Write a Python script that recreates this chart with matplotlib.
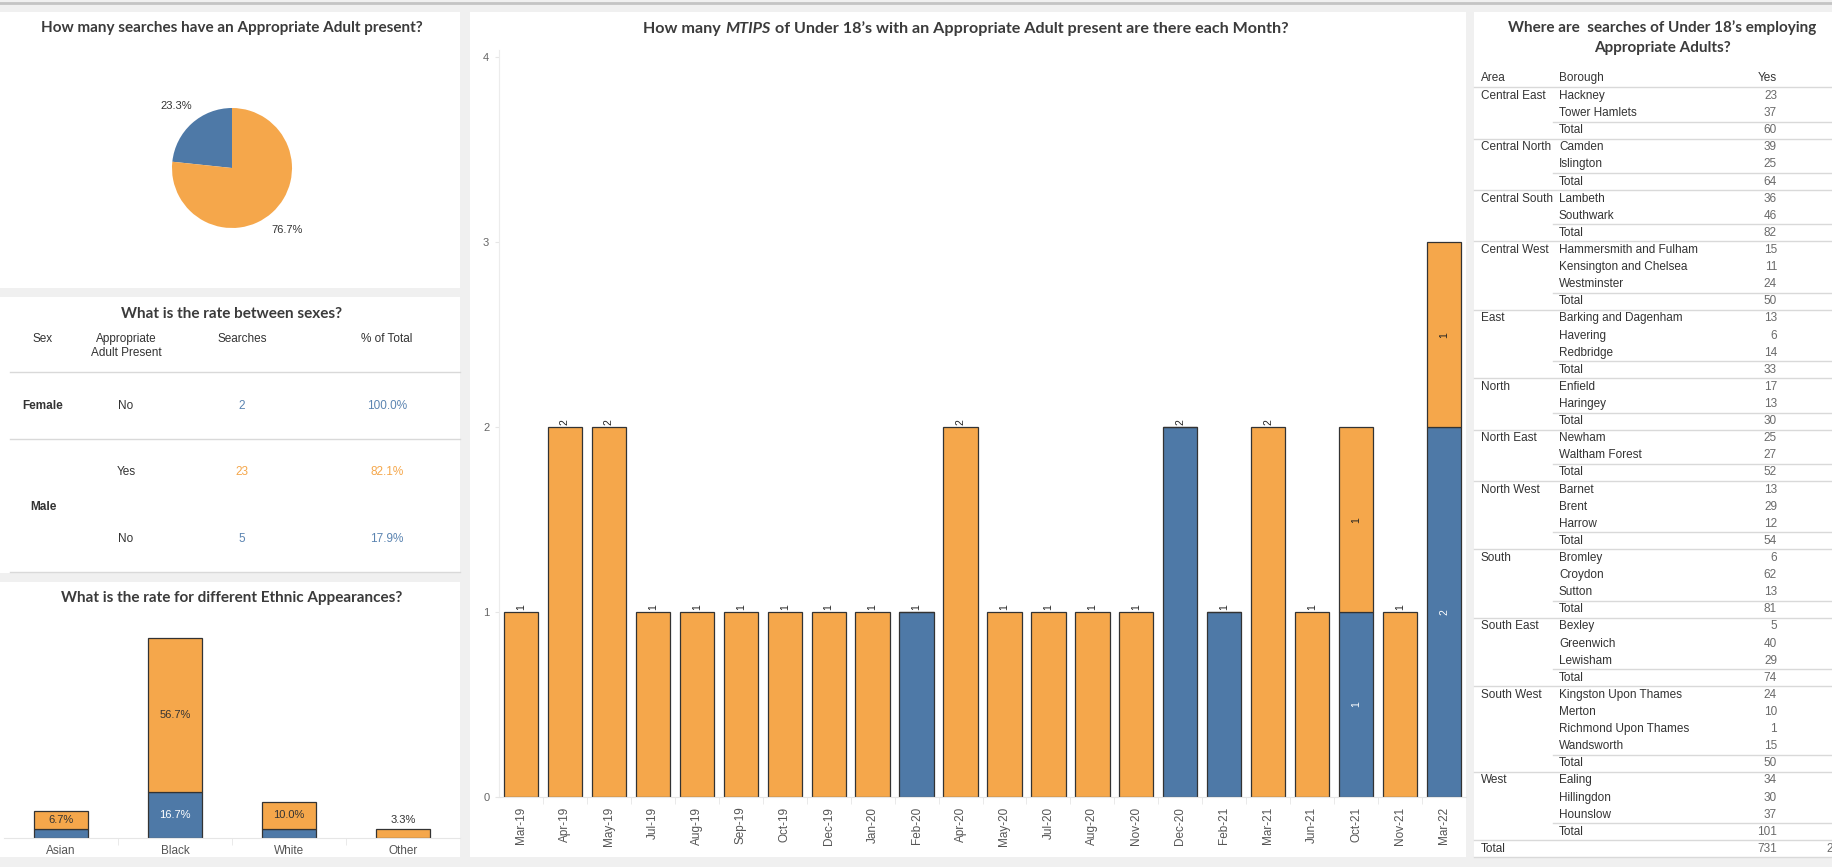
import matplotlib
matplotlib.use("Agg")
import matplotlib.pyplot as plt
from matplotlib.patches import Rectangle
from matplotlib.lines import Line2D

W, H = 1833, 867
ORANGE = "#f5a74b"
BLUE = "#4e79a7"
TITLE_C = "#3b3b3b"
TEXT_C = "#333333"
GREY_C = "#6a6a6a"
LINE_C = "#d9d9d9"
TITLE_FONT = ["Lato", "DejaVu Sans"]
BODY_FONT = ["Liberation Sans", "DejaVu Sans"]

# appropriate adult present: No / Yes
aa_labels = ["No", "Yes"]
aa_counts = [7, 23]

# searches by sex
sex_names = ["Female", "Male", "Male"]
sex_present = ["No", "Yes", "No"]
sex_searches = [2, 23, 5]

# ethnic appearance, % of all searches
ethnic_groups = ["Asian", "Black", "White", "Other"]
ethnic_no = [3.3, 16.7, 3.3, 0.0]
ethnic_yes = [6.7, 56.7, 10.0, 3.3]

# monthly MTIPS counts
months = ["Mar-19", "Apr-19", "May-19", "Jul-19", "Aug-19", "Sep-19", "Oct-19",
          "Dec-19", "Jan-20", "Feb-20", "Apr-20", "May-20", "Jul-20", "Aug-20",
          "Nov-20", "Dec-20", "Feb-21", "Mar-21", "Jun-21", "Oct-21", "Nov-21",
          "Mar-22"]
monthly_no = [0, 0, 0, 0, 0, 0, 0, 0, 0, 1, 0, 0, 0, 0, 0, 2, 1, 0, 0, 1, 0, 2]
monthly_yes = [1, 2, 2, 1, 1, 1, 1, 1, 1, 0, 2, 1, 1, 1, 1, 0, 0, 2, 1, 1, 1, 1]

# borough table
areas = ["Central East", "Central North", "Central South", "Central West", "East",
         "North", "North East", "North West", "South", "South East", "South West",
         "West"]
boroughs = [
    ["Hackney", "Tower Hamlets"],
    ["Camden", "Islington"],
    ["Lambeth", "Southwark"],
    ["Hammersmith and Fulham", "Kensington and Chelsea", "Westminster"],
    ["Barking and Dagenham", "Havering", "Redbridge"],
    ["Enfield", "Haringey"],
    ["Newham", "Waltham Forest"],
    ["Barnet", "Brent", "Harrow"],
    ["Bromley", "Croydon", "Sutton"],
    ["Bexley", "Greenwich", "Lewisham"],
    ["Kingston Upon Thames", "Merton", "Richmond Upon Thames", "Wandsworth"],
    ["Ealing", "Hillingdon", "Hounslow"],
]
borough_yes = [
    [23, 37], [39, 25], [36, 46], [15, 11, 24], [13, 6, 14], [17, 13], [25, 27],
    [13, 29, 12], [6, 62, 13], [5, 40, 29], [24, 10, 1, 15], [34, 30, 37],
]

fig = plt.figure(figsize=(W / 100, H / 100), dpi=100, facecolor="#f0f0f0")


def fx(x):
    return x / W


def fy(y):
    return 1 - y / H


def panel(x0, y0, x1, y1):
    fig.patches.append(Rectangle((fx(x0), fy(y1)), (x1 - x0) / W, (y1 - y0) / H,
                                 transform=fig.transFigure, facecolor="white",
                                 edgecolor="none", zorder=-5))


def hline(x0, x1, y, color=LINE_C, lw=1.0):
    fig.add_artist(Line2D([fx(x0), fx(x1)], [fy(y), fy(y)], transform=fig.transFigure,
                          color=color, lw=lw, zorder=2))


def ftext(x, y, s, **kw):
    kw.setdefault("family", BODY_FONT)
    kw.setdefault("fontsize", 8.5)
    kw.setdefault("color", TEXT_C)
    kw.setdefault("va", "center")
    return fig.text(fx(x), fy(y), s, **kw)


def title(x, y, s, size=11):
    return ftext(x, y, s, family=TITLE_FONT, fontsize=size, fontweight="bold",
                 color=TITLE_C, ha="center")


def add_ax(x0, y0, x1, y1):
    return fig.add_axes([fx(x0), fy(y1), (x1 - x0) / W, (y1 - y0) / H])


# panels
panel(0, 12, 460, 288)
panel(0, 297, 460, 573)
panel(0, 582, 460, 857)
panel(470, 12, 1466, 857)
panel(1474, 12, W, 857)
hline(0, W, 3, color="#c4c4c4", lw=2)

# ---- pie ----
title(232, 28, "How many searches have an Appropriate Adult present?")
ax = add_ax(172, 108, 292, 228)
ax.pie(aa_counts, colors=[BLUE, ORANGE], startangle=90, counterclock=True,
       autopct="%.1f%%", pctdistance=1.38, wedgeprops=dict(linewidth=0),
       textprops=dict(fontsize=8, color=TEXT_C, family=BODY_FONT))
ax.set_xlim(-1, 1)
ax.set_ylim(-1, 1)

# ---- sex table ----
title(232, 314, "What is the rate between sexes?")
ftext(43, 339, "Sex", ha="center")
ftext(126, 339, "Appropriate", ha="center")
ftext(126, 353, "Adult Present", ha="center")
ftext(242, 339, "Searches", ha="center")
ftext(387, 339, "% of Total", ha="center")
hline(10, 460, 372)
hline(10, 460, 439)
hline(10, 460, 572)
sex_totals = {s: sum(n for name, n in zip(sex_names, sex_searches) if name == s)
              for s in sex_names}
row_y = [406, 472, 539]
for y, name, pres, n in zip(row_y, sex_names, sex_present, sex_searches):
    c = ORANGE if pres == "Yes" else "#5b84b1"
    ftext(126, y, pres, ha="center")
    ftext(242, y, str(n), ha="center", color=c)
    ftext(387, y, f"{100 * n / sex_totals[name]:.1f}%", ha="center", color=c)
ftext(43, 406, "Female", ha="center", fontweight="bold")
ftext(43, 507, "Male", ha="center", fontweight="bold")

# ---- ethnic bars ----
title(232, 598, "What is the rate for different Ethnic Appearances?")
ax = add_ax(4, 620, 460, 838)
xs = range(len(ethnic_groups))
bw = 0.47
ax.bar(xs, ethnic_no, width=bw, color=BLUE, edgecolor="#333333", linewidth=0.9)
ax.bar(xs, ethnic_yes, width=bw, bottom=ethnic_no, color=ORANGE, edgecolor="#333333",
       linewidth=0.9)
for i in xs:
    lo, hi = ethnic_no[i], ethnic_yes[i]
    if lo >= 5:
        ax.text(i, lo / 2, f"{lo:.1f}%", ha="center", va="center", color="white",
                fontsize=8, family=BODY_FONT)
    if hi >= 5:
        ax.text(i, lo + hi / 2, f"{hi:.1f}%", ha="center", va="center", color=TEXT_C,
                fontsize=8, family=BODY_FONT)
    elif hi > 0:
        ax.annotate(f"{hi:.1f}%", (i, lo + hi), xytext=(0, 3), textcoords="offset points",
                    ha="center", va="bottom", color=TEXT_C, fontsize=8, family=BODY_FONT)
ax.set_xlim(-0.5, len(ethnic_groups) - 0.5)
ax.set_ylim(0, 80)
ax.set_xticks(list(xs))
ax.set_xticklabels(ethnic_groups, family=BODY_FONT, fontsize=8.5, color="#555555")
ax.set_xticks([0.5, 1.5, 2.5], minor=True)
ax.tick_params(axis="x", which="major", length=0, pad=5)
ax.tick_params(axis="x", which="minor", length=5, color="#e6e6e6")
ax.set_yticks([])
for s in ["top", "right", "left"]:
    ax.spines[s].set_visible(False)
ax.spines["bottom"].set_color("#e6e6e6")
ax.set_facecolor("none")

# ---- monthly bars ----
r = fig.canvas.get_renderer()
parts = [("How many", "normal"), ("MTIPS", "italic"),
         ("of Under 18\u2019s with an Appropriate Adult present are there each Month?", "normal")]
objs = [ftext(0, 29, s, family=TITLE_FONT, fontsize=11.6, fontweight="bold",
              fontstyle=st, color=TITLE_C, ha="left") for s, st in parts]
widths = [t.get_window_extent(r).width for t in objs]
gap = 4.5
x = 966 - (sum(widths) + gap * (len(objs) - 1)) / 2
for t, w in zip(objs, widths):
    t.set_x(fx(x))
    x += w + gap

ax = add_ax(499, 50, 1466, 797)
xs = range(len(months))
bw = 0.78
ax.bar(xs, monthly_no, width=bw, color=BLUE, edgecolor="#333333", linewidth=0.9)
ax.bar(xs, monthly_yes, width=bw, bottom=monthly_no, color=ORANGE, edgecolor="#333333",
       linewidth=0.9)
for i in xs:
    lo, hi = monthly_no[i], monthly_yes[i]
    if lo and hi:
        ax.text(i, lo / 2, str(lo), rotation=90, ha="center", va="center", color="white",
                fontsize=7.5, family=BODY_FONT)
        ax.text(i, lo + hi / 2, str(hi), rotation=90, ha="center", va="center",
                color="#222222", fontsize=7.5, family=BODY_FONT)
    else:
        ax.annotate(str(lo + hi), (i, lo + hi), xytext=(0, 1.5), textcoords="offset points",
                    rotation=90, ha="center", va="bottom", color="#222222", fontsize=7.5,
                    family=BODY_FONT)
ax.set_xlim(-0.5, len(months) - 0.5)
ax.set_ylim(0, 4.04)
ax.set_xticks(list(xs))
ax.set_xticklabels(months, rotation=90, family=BODY_FONT, fontsize=8.5, color="#555555")
ax.set_xticks([i + 0.5 for i in range(len(months) - 1)], minor=True)
ax.tick_params(axis="x", which="major", length=0, pad=7)
ax.tick_params(axis="x", which="minor", length=5, color="#e6e6e6")
ax.set_yticks([0, 1, 2, 3, 4])
ax.set_yticklabels(["0", "1", "2", "3", "4"], family=BODY_FONT, fontsize=8, color="#666666")
ax.tick_params(axis="y", length=3, color="#e6e6e6", pad=4)
for s in ["top", "right"]:
    ax.spines[s].set_visible(False)
ax.spines["left"].set_color("#ececec")
ax.spines["bottom"].set_color("#e6e6e6")
ax.set_facecolor("none")

# ---- borough table ----
title(1662, 28, "Where are  searches of Under 18\u2019s employing")
title(1662, 48, "Appropriate Adults?")
ftext(1481, 78, "Area")
ftext(1559, 78, "Borough")
ftext(1777, 78, "Yes", ha="right")
hline(1474, W, 87)
step = 17.11


def row_y(k):
    return 96 + k * step


k = 0
for area, names, vals in zip(areas, boroughs, borough_yes):
    ftext(1481, row_y(k), area)
    for name, v in zip(names, vals):
        ftext(1559, row_y(k), name)
        ftext(1777, row_y(k), str(v), ha="right", color=GREY_C)
        k += 1
    hline(1553, W, row_y(k) - step / 2)
    ftext(1559, row_y(k), "Total")
    ftext(1777, row_y(k), str(sum(vals)), ha="right", color=GREY_C)
    k += 1
    hline(1474, W, row_y(k) - step / 2)
ftext(1481, row_y(k), "Total")
ftext(1777, row_y(k), str(sum(sum(v) for v in borough_yes)), ha="right", color=GREY_C)
ftext(1826, row_y(k), "2", ha="left", color=GREY_C)
hline(1474, W, 857)

fig.savefig("out.png", dpi=100, facecolor=fig.get_facecolor())
